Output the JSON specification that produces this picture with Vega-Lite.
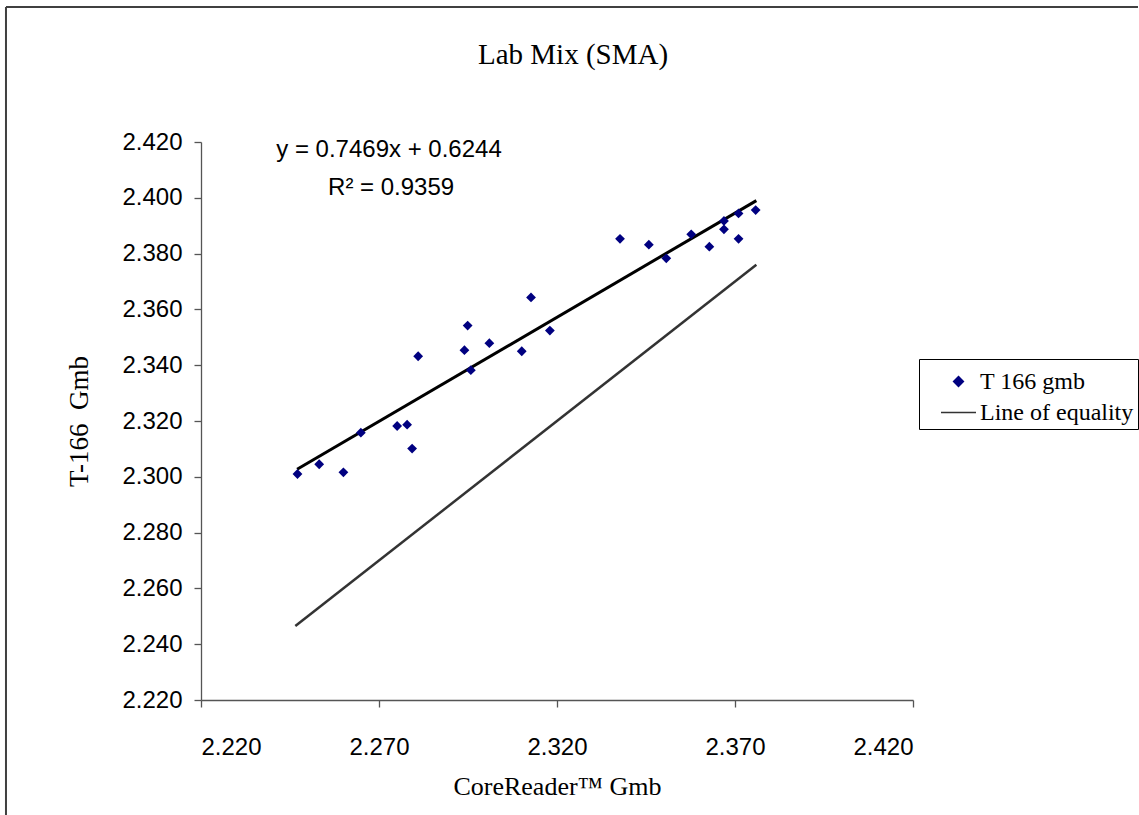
{
  "$schema": "https://vega.github.io/schema/vega-lite/v6.json",
  "autosize": {"type": "none"},
  "width": 712,
  "height": 558,
  "padding": {"left": 201, "top": 142, "right": 226, "bottom": 115},
  "background": "white",
  "title": {
    "text": "Lab Mix (SMA)",
    "font": "Liberation Serif",
    "fontSize": 29,
    "fontWeight": "normal",
    "color": "black",
    "anchor": "middle",
    "frame": "group",
    "baseline": "alphabetic",
    "dx": 16,
    "offset": -87
  },
  "config": {
    "view": {"stroke": null},
    "axis": {
      "grid": false,
      "domainColor": "#555555",
      "domainWidth": 1.3,
      "tickColor": "#555555",
      "tickWidth": 1.3,
      "tickSize": 7,
      "labelFont": "Liberation Sans",
      "labelFontSize": 24,
      "labelColor": "black",
      "titleFont": "Liberation Serif",
      "titleFontWeight": "normal",
      "titleColor": "black"
    },
    "legend": {
      "strokeColor": "black",
      "strokeWidth": 1,
      "padding": 4,
      "symbolOffset": 17,
      "symbolSize": 1225,
      "symbolStrokeWidth": 1.5,
      "labelFont": "Liberation Serif",
      "labelFontSize": 24,
      "labelColor": "black",
      "labelOffset": 3,
      "rowPadding": 0,
      "labelLimit": 400
    }
  },
  "datasets": {
    "gmb": [
      {"corereader": 2.2471, "t166": 2.3010, "series": "T 166 gmb"},
      {"corereader": 2.2532, "t166": 2.3045, "series": "T 166 gmb"},
      {"corereader": 2.2600, "t166": 2.3016, "series": "T 166 gmb"},
      {"corereader": 2.2649, "t166": 2.3158, "series": "T 166 gmb"},
      {"corereader": 2.2751, "t166": 2.3182, "series": "T 166 gmb"},
      {"corereader": 2.2779, "t166": 2.3187, "series": "T 166 gmb"},
      {"corereader": 2.2793, "t166": 2.3101, "series": "T 166 gmb"},
      {"corereader": 2.2810, "t166": 2.3432, "series": "T 166 gmb"},
      {"corereader": 2.2940, "t166": 2.3454, "series": "T 166 gmb"},
      {"corereader": 2.2949, "t166": 2.3542, "series": "T 166 gmb"},
      {"corereader": 2.2958, "t166": 2.3382, "series": "T 166 gmb"},
      {"corereader": 2.3010, "t166": 2.3479, "series": "T 166 gmb"},
      {"corereader": 2.3101, "t166": 2.3450, "series": "T 166 gmb"},
      {"corereader": 2.3127, "t166": 2.3643, "series": "T 166 gmb"},
      {"corereader": 2.3180, "t166": 2.3524, "series": "T 166 gmb"},
      {"corereader": 2.3377, "t166": 2.3853, "series": "T 166 gmb"},
      {"corereader": 2.3458, "t166": 2.3832, "series": "T 166 gmb"},
      {"corereader": 2.3507, "t166": 2.3783, "series": "T 166 gmb"},
      {"corereader": 2.3577, "t166": 2.3869, "series": "T 166 gmb"},
      {"corereader": 2.3628, "t166": 2.3825, "series": "T 166 gmb"},
      {"corereader": 2.3669, "t166": 2.3917, "series": "T 166 gmb"},
      {"corereader": 2.3669, "t166": 2.3887, "series": "T 166 gmb"},
      {"corereader": 2.3710, "t166": 2.3944, "series": "T 166 gmb"},
      {"corereader": 2.3710, "t166": 2.3853, "series": "T 166 gmb"},
      {"corereader": 2.3758, "t166": 2.3956, "series": "T 166 gmb"}
    ],
    "equality": [
      {"corereader": 2.2465, "t166": 2.2465, "series": "Line of equality"},
      {"corereader": 2.3760, "t166": 2.3760, "series": "Line of equality"}
    ],
    "trend": [
      {"corereader": 2.2470, "t166": 2.3027},
      {"corereader": 2.3760, "t166": 2.3990}
    ]
  },
  "layer": [
    {
      "data": {"values": [{"k": 1}]},
      "mark": {"type": "rule", "color": "#404040", "strokeWidth": 2, "clip": false},
      "encoding": {
        "x": {"datum": 2.16522, "type": "quantitative", "scale": {"domain": [2.22, 2.42], "nice": false, "zero": false}},
        "x2": {"datum": 2.4832},
        "y": {"datum": 2.46839, "type": "quantitative", "scale": {"domain": [2.22, 2.42], "nice": false, "zero": false}}
      }
    },
    {
      "data": {"values": [{"k": 1}]},
      "mark": {"type": "rule", "color": "#404040", "strokeWidth": 2, "clip": false},
      "encoding": {
        "x": {"datum": 2.16522, "type": "quantitative"},
        "y": {"datum": 2.46839, "type": "quantitative"},
        "y2": {"datum": 2.17699}
      }
    },
    {
      "data": {"name": "equality"},
      "mark": {"type": "line", "strokeWidth": 2.5},
      "encoding": {
        "x": {"field": "corereader", "type": "quantitative"},
        "y": {"field": "t166", "type": "quantitative"},
        "color": {"field": "series", "type": "nominal"}
      }
    },
    {
      "data": {"name": "trend"},
      "mark": {"type": "line", "color": "black", "strokeWidth": 3},
      "encoding": {
        "x": {"field": "corereader", "type": "quantitative"},
        "y": {"field": "t166", "type": "quantitative"}
      }
    },
    {
      "data": {"name": "gmb"},
      "mark": {"type": "point", "filled": true, "opacity": 1, "size": 1225},
      "encoding": {
        "x": {
          "field": "corereader",
          "type": "quantitative",
          "scale": {"domain": [2.22, 2.42], "nice": false, "zero": false},
          "axis": {
            "values": [2.22, 2.27, 2.32, 2.37, 2.42],
            "format": ".3f",
            "labelPadding": 28,
            "title": "CoreReader™ Gmb",
            "titleFontSize": 26,
            "titlePadding": 14
          }
        },
        "y": {
          "field": "t166",
          "type": "quantitative",
          "scale": {"domain": [2.22, 2.42], "nice": false, "zero": false},
          "axis": {
            "values": [2.22, 2.24, 2.26, 2.28, 2.30, 2.32, 2.34, 2.36, 2.38, 2.40, 2.42],
            "format": ".3f",
            "labelPadding": 12,
            "title": "T-166\u00a0 Gmb",
            "titleFontSize": 27,
            "titlePadding": 28
          }
        },
        "color": {
          "field": "series",
          "type": "nominal",
          "scale": {"domain": ["T 166 gmb", "Line of equality"], "range": ["#000080", "#333333"]},
          "legend": {"title": null, "orient": "none", "legendX": 718, "legendY": 217}
        },
        "shape": {
          "field": "series",
          "type": "nominal",
          "scale": {"domain": ["T 166 gmb", "Line of equality"], "range": ["M0,-0.28L0.28,0L0,0.28L-0.28,0Z", "stroke"]},
          "legend": {"title": null, "orient": "none", "legendX": 718, "legendY": 217}
        }
      }
    },
    {
      "data": {"values": [{"label": "y = 0.7469x + 0.6244"}]},
      "mark": {"type": "text", "font": "Liberation Sans", "fontSize": 24, "color": "black", "align": "center", "baseline": "alphabetic"},
      "encoding": {
        "x": {"datum": 2.2728, "type": "quantitative"},
        "y": {"datum": 2.4146, "type": "quantitative"},
        "text": {"field": "label"}
      }
    },
    {
      "data": {"values": [{"label": "R² = 0.9359"}]},
      "mark": {"type": "text", "font": "Liberation Sans", "fontSize": 24, "color": "black", "align": "center", "baseline": "alphabetic"},
      "encoding": {
        "x": {"datum": 2.2734, "type": "quantitative"},
        "y": {"datum": 2.4010, "type": "quantitative"},
        "text": {"field": "label"}
      }
    }
  ]
}
